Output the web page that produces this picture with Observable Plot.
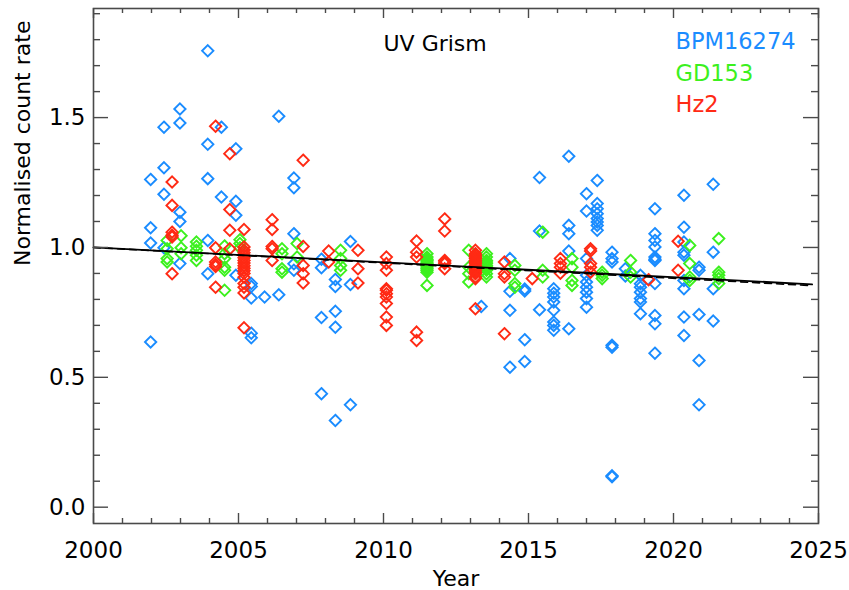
<!DOCTYPE html>
<html><head><meta charset="utf-8">
<script src="https://cdn.jsdelivr.net/npm/d3@7"></script>
<script src="https://cdn.jsdelivr.net/npm/@observablehq/plot@0.6"></script>
<style>body{margin:0;background:#fff}svg{display:block}</style>
</head><body><div id="chart"></div>
<script>
// ---- data ----
const series = ["BPM16274", "GD153", "Hz2"];
const seriesColors = ["#1a8cff", "#3cf01e", "#ff2a14"];

const bpmEpochs = [2001.97, 2002.43, 2002.98, 2003.94, 2004.41, 2004.91, 2005.44, 2005.90, 2006.39, 2006.91,
  2007.86, 2008.34, 2008.86, 2013.37, 2014.36, 2014.87, 2015.38, 2015.87, 2016.39, 2017.00, 2017.37,
  2017.88, 2018.34, 2018.86, 2019.36, 2020.36, 2020.88, 2021.37];
const bpmRates = [
  [1.262, 1.076, 1.017, 0.636],
  [1.463, 1.307, 1.205, 0.999],
  [1.533, 1.479, 1.136, 1.100, 0.938],
  [1.757, 1.397, 1.265, 1.027, 0.899],
  [1.463, 1.194],
  [1.380, 1.178, 1.124, 0.893],
  [0.861, 0.850, 0.805, 0.670, 0.652],
  [0.809],
  [1.505, 0.818],
  [1.267, 1.230, 1.053, 0.937, 0.912],
  [0.955, 0.922, 0.730, 0.437],
  [0.877, 0.850, 0.754, 0.693, 0.334],
  [1.023, 0.857, 0.394],
  [0.773],
  [0.957, 0.831, 0.758, 0.539],
  [0.840, 0.832, 0.645, 0.561],
  [1.269, 1.063, 0.760],
  [0.841, 0.824, 0.809, 0.790, 0.758, 0.713, 0.700, 0.681],
  [1.351, 1.085, 1.053, 0.986, 0.687],
  [1.207, 1.140, 0.957, 0.893, 0.867, 0.847, 0.828, 0.803, 0.770],
  [1.258, 1.169, 1.149, 1.130, 1.111, 1.098, 1.085, 1.066],
  [0.982, 0.957, 0.944, 0.623, 0.616, 0.121, 0.117],
  [0.918, 0.890],
  [0.893, 0.860, 0.847, 0.828, 0.803, 0.790, 0.745],
  [1.149, 1.053, 1.027, 1.002, 0.963, 0.955, 0.950, 0.861, 0.738, 0.706, 0.593],
  [1.201, 1.078, 1.021, 0.982, 0.970, 0.873, 0.841, 0.732, 0.661],
  [0.924, 0.912, 0.742, 0.565, 0.394],
  [1.243, 0.982, 0.841, 0.717]
];

const gdEpochs = [2002.54, 2003.02, 2003.55, 2004.52, 2005.05, 2006.50, 2007.02, 2008.52, 2011.50, 2012.94,
  2013.55, 2014.53, 2015.49, 2016.50, 2017.54, 2018.52, 2020.56, 2021.56];
const gdRates = [
  [1.027, 0.995, 0.957, 0.944],
  [1.045, 0.999, 0.976],
  [1.021, 1.005, 0.989, 0.970, 0.950],
  [1.006, 0.976, 0.957, 0.924, 0.912, 0.835],
  [1.030, 1.015, 0.999],
  [0.995, 0.976, 0.918, 0.905],
  [1.015, 0.963],
  [0.989, 0.957, 0.931, 0.912],
  [0.976, 0.963, 0.955, 0.950, 0.944, 0.938, 0.931, 0.925, 0.918, 0.912, 0.905, 0.854],
  [0.989, 0.924, 0.899, 0.867],
  [0.976, 0.963, 0.950, 0.944, 0.938, 0.931, 0.925, 0.918, 0.912, 0.899, 0.886],
  [0.931, 0.912, 0.861, 0.847],
  [1.059, 0.912, 0.886],
  [0.957, 0.924, 0.873, 0.854],
  [0.905, 0.893, 0.880],
  [0.950, 0.905, 0.886],
  [1.008, 0.938, 0.886, 0.873],
  [1.034, 0.905, 0.893, 0.880, 0.861]
];

const hzEpochs = [2002.71, 2004.21, 2004.70, 2005.19, 2006.16, 2007.23, 2008.11, 2009.12, 2010.10, 2011.14,
  2012.11, 2013.17, 2014.17, 2015.13, 2016.10, 2017.14, 2019.14, 2020.16];
const hzRates = [
  [1.252, 1.162, 1.059, 1.047, 1.040, 0.899],
  [1.467, 0.999, 0.944, 0.934, 0.927, 0.847],
  [1.361, 1.146, 1.066, 0.995],
  [1.069, 1.002, 0.990, 0.980, 0.970, 0.960, 0.950, 0.940, 0.930, 0.920, 0.910, 0.900, 0.885, 0.861, 0.847, 0.825, 0.691],
  [1.107, 1.069, 1.004, 0.995, 0.950],
  [1.336, 1.004, 0.931, 0.899, 0.863],
  [0.986, 0.944],
  [0.989, 0.918, 0.863],
  [0.963, 0.938, 0.912, 0.841, 0.835, 0.822, 0.809, 0.784, 0.732, 0.700],
  [1.025, 0.982, 0.963, 0.674, 0.642],
  [1.110, 1.063, 0.950, 0.944, 0.938, 0.918],
  [0.989, 0.976, 0.970, 0.963, 0.957, 0.950, 0.944, 0.938, 0.931, 0.925, 0.918, 0.912, 0.905, 0.899, 0.886, 0.880, 0.764],
  [0.944, 0.899, 0.886, 0.668],
  [0.880],
  [0.957, 0.938, 0.924, 0.901],
  [0.995, 0.986, 0.938, 0.924, 0.905],
  [0.876],
  [1.024, 0.912]
];

// trend fits (start/end)
const fitYears = [2000, 2024.78];
const fitSolid = [1.0, 0.858];
const fitDashed = [1.0, 0.853];

const xMajor = [2000, 2005, 2010, 2015, 2020, 2025];
const xMinor = d3.range(2001, 2025).filter(d => d % 5 !== 0);
const yMajor = [0.0, 0.5, 1.0, 1.5];
const yMinor = d3.range(1, 20).map(d => d / 10).filter(d => (d * 10) % 5 !== 0);

// ---- build tables ----
function flatten(epochs, rates, name) {
  const out = [];
  epochs.forEach((yr, i) => rates[i].forEach(v => out.push({year: yr, rate: v, star: name})));
  return out;
}
const pts = [
  ...flatten(bpmEpochs, bpmRates, series[0]),
  ...flatten(gdEpochs, gdRates, series[1]),
  ...flatten(hzEpochs, hzRates, series[2])
];
const solid = fitYears.map((x, i) => ({x, y: fitSolid[i]}));
const dashed = fitYears.map((x, i) => ({x, y: fitDashed[i]}));

const W = 849, H = 590, mL = 93, mR = 31, mT = 8, mB = 67;
const pW = W - mL - mR, pH = H - mT - mB;
const axisCol = "#4a4a4a";
const font = "DejaVu Sans";

const chart = Plot.plot({
  width: W, height: H,
  marginLeft: mL, marginRight: mR, marginTop: mT, marginBottom: mB,
  style: {fontFamily: font, background: "#fff", color: "#000"},
  x: {domain: [2000, 2025]},
  y: {domain: [-0.0628, 1.920]},
  color: {domain: series, range: seriesColors},
  marks: [
    // points
    Plot.dot(pts, {x: "year", y: "rate", stroke: "star", symbol: "diamond2", r: 5.1, strokeWidth: 1.9, fill: "none"}),
    // fit lines
    Plot.line(dashed, {x: "x", y: "y", stroke: "#000", strokeWidth: 1.6, strokeDasharray: "7,5"}),
    Plot.line(solid, {x: "x", y: "y", stroke: "#000", strokeWidth: 1.8}),
    // frame
    Plot.frame({stroke: axisCol, strokeWidth: 1.6}),
    // ticks (inward)
    Plot.ruleX(xMajor, {x: d => d, insetTop: pH - 10, stroke: axisCol, strokeWidth: 1.4}),
    Plot.ruleX(xMajor, {x: d => d, insetBottom: pH - 10, stroke: axisCol, strokeWidth: 1.4}),
    Plot.ruleX(xMinor, {x: d => d, insetTop: pH - 5, stroke: axisCol, strokeWidth: 1.4}),
    Plot.ruleX(xMinor, {x: d => d, insetBottom: pH - 5, stroke: axisCol, strokeWidth: 1.4}),
    Plot.ruleY(yMajor, {y: d => d, insetRight: pW - 15, stroke: axisCol, strokeWidth: 1.4}),
    Plot.ruleY(yMajor, {y: d => d, insetLeft: pW - 15, stroke: axisCol, strokeWidth: 1.4}),
    Plot.ruleY(yMinor, {y: d => d, insetRight: pW - 7, stroke: axisCol, strokeWidth: 1.4}),
    Plot.ruleY(yMinor, {y: d => d, insetLeft: pW - 7, stroke: axisCol, strokeWidth: 1.4}),
    // tick labels
    Plot.axisX(xMajor, {tickSize: 0, tickPadding: 18, tickFormat: d => String(d), fontSize: 23, label: null}),
    Plot.axisY(yMajor, {tickSize: 0, tickPadding: 8, tickFormat: d => d.toFixed(1), fontSize: 23, label: null}),
    // axis titles
    Plot.text(["Year"], {frameAnchor: "bottom", lineAnchor: "bottom", dy: 62, fontSize: 22, fill: "#000"}),
    Plot.text(["Normalised count rate"], {frameAnchor: "left", rotate: -90, dx: -71, fontSize: 22, fill: "#000"}),
    // title and legend
    Plot.text(["UV Grism"], {x: 2010.0, y: 1.758, textAnchor: "start", lineAnchor: "bottom", fontSize: 22, fill: "#000"}),
    Plot.text(series, {x: 2020.07, y: (d, i) => 1.763 - i * 0.121, text: d => d, fill: (d, i) => seriesColors[i],
      textAnchor: "start", lineAnchor: "bottom", fontSize: 22.5})
  ]
});
document.getElementById("chart").appendChild(chart);
</script>
</body></html>
